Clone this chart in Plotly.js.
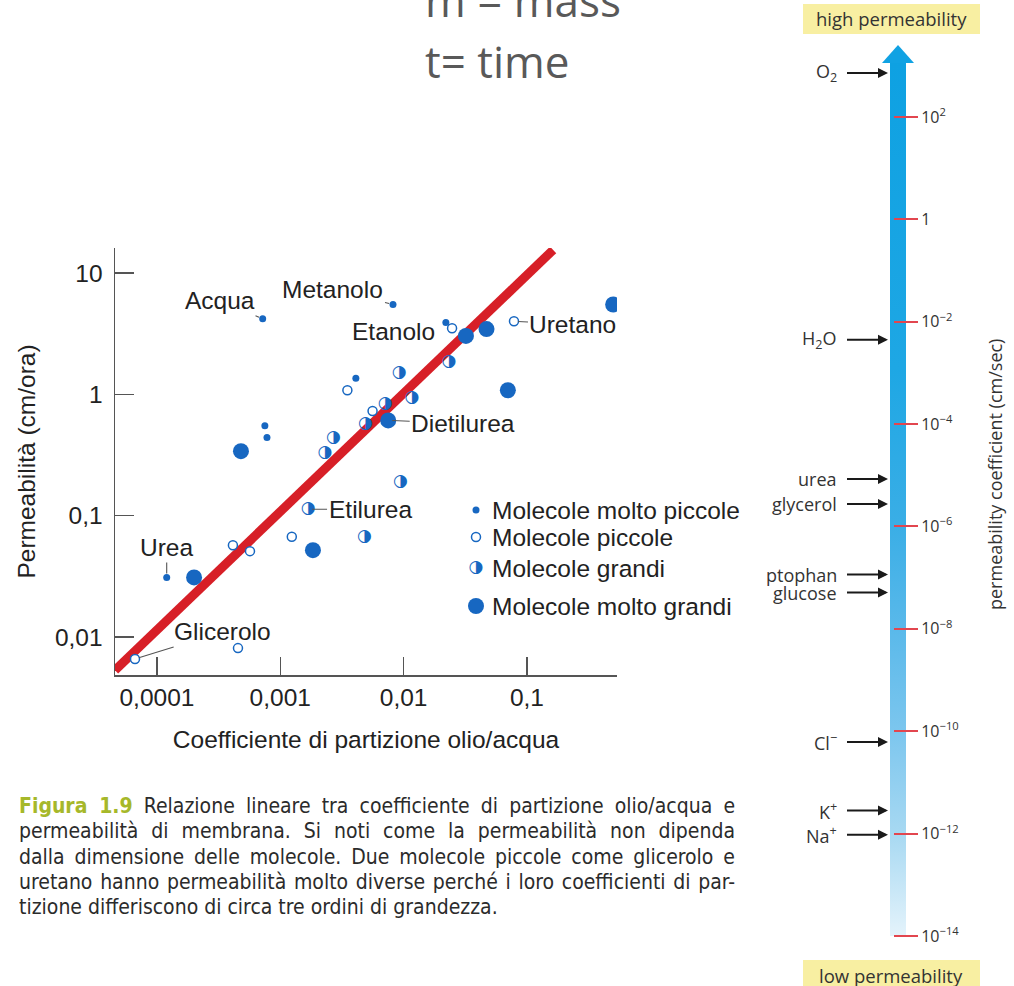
<!DOCTYPE html>
<html><head><meta charset="utf-8">
<script src="https://cdn.plot.ly/plotly-3.0.1.min.js"></script>
<style>html,body{margin:0;padding:0;background:#fff}</style>
</head><body><div id="chart" style="width:1014px;height:986px"></div>
<script>
// ---------- main chart data: partition coefficient (x) vs permeability cm/ora (y) ----------
const verySmallX = [0.00072, 0.0082, 0.022, 0.0041, 0.00075, 0.00078, 0.00012];
const verySmallY = [4.2, 5.5, 3.9, 1.36, 0.55, 0.44, 0.031];
const smallX = [0.0247, 0.0785, 0.0035, 0.0056, 0.0000664, 0.000454, 0.000413, 0.000568, 0.00124];
const smallY = [3.5, 4.0, 1.08, 0.73, 0.0066, 0.0081, 0.057, 0.051, 0.067];
const largeX = [0.0092, 0.0233, 0.0117, 0.0071, 0.0049, 0.0027, 0.0023, 0.0094, 0.00168, 0.0048];
const largeY = [1.5, 1.85, 0.93, 0.83, 0.57, 0.44, 0.33, 0.19, 0.113, 0.067];
const veryLargeX = [0.50, 0.047, 0.032, 0.070, 0.0075, 0.00048, 0.00184, 0.0002];
const veryLargeY = [5.5, 3.45, 3.03, 1.08, 0.61, 0.34, 0.052, 0.031];
const fitX = [0.0000457, 0.163];
const fitY = [0.00533, 15.5];
const seriesNames = ['Molecole molto piccole', 'Molecole piccole', 'Molecole grandi', 'Molecole molto grandi'];
const xTickVals = [1e-4, 1e-3, 1e-2, 1e-1];
const xTickText = ['0,0001', '0,001', '0,01', '0,1'];
const yTickVals = [0.01, 0.1, 1, 10];
const yTickText = ['0,01', '0,1', '1', '10'];
const labelNames = ['Acqua', 'Metanolo', 'Etanolo', 'Uretano', 'Dietilurea', 'Etilurea', 'Urea', 'Glicerolo'];
const labelX = [0.00072, 0.0082, 0.0247, 0.0785, 0.0075, 0.00168, 0.00012, 0.0000664];
const labelY = [4.2, 5.5, 3.5, 4.0, 0.61, 0.113, 0.031, 0.0066];

// ---------- right panel: permeability coefficient scale (cm/sec) ----------
const scaleTickVals = [1e2, 1, 1e-2, 1e-4, 1e-6, 1e-8, 1e-10, 1e-12, 1e-14];
const scaleTickText = ['10<sup>2</sup>', '1', '10<sup>−2</sup>', '10<sup>−4</sup>', '10<sup>−6</sup>',
  '10<sup>−8</sup>', '10<sup>−10</sup>', '10<sup>−12</sup>', '10<sup>−14</sup>'];
const soluteNames = ['O<sub>2</sub>', 'H<sub>2</sub>O', 'urea', 'glycerol', 'ptophan', 'glucose',
  'Cl<sup>−</sup>', 'K<sup>+</sup>', 'Na<sup>+</sup>'];
const soluteLogP = [2.86, -2.35, -5.07, -5.56, -6.94, -7.29, -10.21, -11.55, -12.02];

const captionLines = [
  '<b><span style="color:#a6b82a">Figura 1.9</span></b> Relazione lineare tra coefficiente di partizione olio/acqua e',
  'permeabilità di membrana. Si noti come la permeabilità non dipenda',
  'dalla dimensione delle molecole. Due molecole piccole come glicerolo e',
  'uretano hanno permeabilità molto diverse perché i loro coefficienti di par-',
  'tizione differiscono di circa tre ordini di grandezza.'
];

// ---------- layout helpers ----------
const W = 1014, H = 986;
const px = v => v / W, py = v => 1 - v / H;
const F = 'Liberation Sans, Arial, sans-serif';
const F2 = 'Open Sans, Noto Sans, sans-serif';
const FC = 'Liberation Sans Narrow, DejaVu Sans Condensed, Liberation Sans, sans-serif';
const FG = 'DejaVu Sans, sans-serif';
const FS = 24.5;
const BLUE = '#1767c1';
const HALF = '\u25D1';
const L = Math.log10;

// scale geometry (log10 units of the bar axis)
const barBottomLog = -14, barTopLog = 3.055, arrowTipLog = 3.406;
// key (legend) geometry in page pixels
const keyGlyphX = 476, keyTextX = 490, keyRowsY = [510, 537, 568, 606];

const styles = [
  {mode: 'markers', marker: {symbol: 'circle', size: 7, color: BLUE}},
  {mode: 'markers', marker: {symbol: 'circle', size: 9, color: '#ffffff', line: {color: BLUE, width: 1.5}}},
  {mode: 'text', textposition: 'middle center', textfont: {family: FG, size: 17, color: BLUE}},
  {mode: 'markers', marker: {symbol: 'circle', size: 16, color: BLUE}}
];
const seriesX = [verySmallX, smallX, largeX, veryLargeX];
const seriesY = [verySmallY, smallY, largeY, veryLargeY];

const traces = [
  {x: fitX, y: fitY, mode: 'lines', line: {color: '#d71f27', width: 9}, showlegend: false, hoverinfo: 'skip'}
];
seriesX.forEach((xs, i) => {
  const t = Object.assign({x: xs, y: seriesY[i], name: seriesNames[i], showlegend: false}, styles[i]);
  if (styles[i].mode === 'text') t.text = xs.map(() => HALF);
  traces.push(t);
});
// key glyphs (full-page pixel axes)
seriesNames.forEach((n, i) => {
  const t = Object.assign({x: [keyGlyphX], y: [keyRowsY[i]], xaxis: 'x4', yaxis: 'y4', showlegend: false,
    hoverinfo: 'skip'}, styles[i]);
  if (styles[i].mode === 'text') t.text = [HALF];
  traces.push(t);
});
// gradient bar
traces.push({x: [0.3, 0.7, 0.7, 0.3, 0.3],
  y: [barBottomLog, barBottomLog, barTopLog, barTopLog, barBottomLog].map(v => Math.pow(10, v)),
  xaxis: 'x3', yaxis: 'y3', mode: 'lines', fill: 'toself', line: {width: 0, color: 'rgba(0,0,0,0)'},
  fillgradient: {type: 'vertical', colorscale: [[0, '#e4f3fb'], [0.115, '#a8d9f2'], [0.234, '#7cc6ee'],
    [0.35, '#5ab9ea'], [0.47, '#3aaee6'], [0.65, '#1ea7e4'], [1, '#0ea1e2']]},
  showlegend: false, hoverinfo: 'skip'});
// arrow head
traces.push({x: [0.1, 0.9, 0.5, 0.1], y: [barTopLog, barTopLog, arrowTipLog, barTopLog].map(v => Math.pow(10, v)),
  xaxis: 'x3', yaxis: 'y3', mode: 'lines', fill: 'toself', fillcolor: '#10a2e3',
  line: {width: 0, color: 'rgba(0,0,0,0)'}, showlegend: false, hoverinfo: 'skip'});

// label offsets (pixels from the point to the label centre)
const labelAx = [-43, -60, -59, 59, 75, 62, 0, 87];
const labelAy = [-18, -15, 3, 3, 3, 0, -30, -27];
const annotations = [];
const txt = (o) => Object.assign({xanchor: 'center', yanchor: 'middle', showarrow: false}, o);
labelNames.forEach((n, i) => {
  if (n === 'Etanolo') {
    annotations.push(txt({x: L(labelX[i]), y: L(labelY[i]), xref: 'x', yref: 'y', text: n,
      xshift: labelAx[i], yshift: -labelAy[i], font: {family: F, size: FS, color: '#222'}}));
  } else {
    annotations.push({x: L(labelX[i]), y: L(labelY[i]), xref: 'x', yref: 'y', text: n, showarrow: true,
      ax: labelAx[i], ay: labelAy[i], arrowhead: 0, arrowwidth: 1.1, arrowcolor: '#555', standoff: 4,
      font: {family: F, size: FS, color: '#222'}});
  }
});
// key texts
seriesNames.forEach((n, i) => {
  annotations.push(txt({x: keyTextX, y: keyRowsY[i], xref: 'x4', yref: 'y4', xanchor: 'left', text: n,
    font: {family: F, size: FS, color: '#222'}}));
});
// solute arrows on the scale
soluteNames.forEach((n, i) => {
  annotations.push({x: 0.3, y: soluteLogP[i], xref: 'x3', yref: 'y3', text: n, showarrow: true,
    ax: -43, ay: 0, xanchor: 'right', yanchor: 'middle', borderpad: 9, arrowhead: 2, arrowsize: 1, arrowwidth: 2,
    arrowcolor: '#1a1a1a', standoff: 2, font: {family: F2, size: 18, color: '#333'}});
});
// scale title and boxes
annotations.push(txt({x: px(995), y: py(475), xref: 'paper', yref: 'paper', text: 'permeability coefficient (cm/sec)',
  textangle: -90, font: {family: F2, size: 18, color: '#333'}}));
annotations.push(txt({x: px(891), y: py(19), xref: 'paper', yref: 'paper', text: 'high permeability',
  font: {family: F2, size: 18.5, color: '#333'}}));
annotations.push(txt({x: px(891), y: py(975), xref: 'paper', yref: 'paper', text: 'low permeability',
  font: {family: F2, size: 18.5, color: '#333'}}));
// top text
annotations.push(txt({x: px(423), y: py(0), xref: 'paper', yref: 'paper', xanchor: 'left', text: 'm = mass',
  font: {family: F2, size: 44, color: '#595959'}}));
annotations.push(txt({x: px(423), y: py(61), xref: 'paper', yref: 'paper', xanchor: 'left', text: 't= time',
  font: {family: F2, size: 44, color: '#595959'}}));
// caption
const captionY = [806, 831, 857, 882, 907];
const captionStart = annotations.length;
captionLines.forEach((t, i) => {
  annotations.push(txt({x: px(17), y: py(captionY[i]), xref: 'paper', yref: 'paper', xanchor: 'left', align: 'left',
    text: t, font: {family: FC, size: 21, color: '#2b2b2b'}}));
});

const layout = {
  width: W, height: H, margin: {l: 0, r: 0, t: 0, b: 0},
  paper_bgcolor: '#ffffff', plot_bgcolor: 'rgba(0,0,0,0)',
  showlegend: false,
  xaxis: {type: 'log', domain: [px(115), px(617)], range: [-4.34, -0.27], anchor: 'y',
    tickvals: xTickVals, ticktext: xTickText, ticks: 'inside', ticklen: 18, tickwidth: 1.5, tickcolor: '#555',
    showline: true, linecolor: '#555', linewidth: 1.5, showgrid: false, zeroline: false,
    tickfont: {family: F, size: FS, color: '#222'},
    title: {text: 'Coefficiente di partizione olio/acqua', font: {family: F, size: FS, color: '#222'}, standoff: 21}},
  yaxis: {type: 'log', domain: [py(675), py(248)], range: [-2.313, 1.206], anchor: 'x',
    tickvals: yTickVals, ticktext: yTickText, ticks: 'inside', ticklen: 19, tickwidth: 1.5, tickcolor: '#555',
    showline: true, linecolor: '#555', linewidth: 1.5, showgrid: false, zeroline: false,
    tickfont: {family: F, size: FS, color: '#222'}, ticklabelstandoff: 6,
    title: {text: 'Permeabilità (cm/ora)', font: {family: F, size: FS, color: '#222'}, standoff: 12}},
  xaxis3: {domain: [px(878), px(918)], range: [0, 1], anchor: 'y3', visible: false, fixedrange: true},
  yaxis3: {type: 'log', domain: [py(945), py(40)], range: [-14.176, 3.504], anchor: 'free', position: px(893),
    side: 'right', tickvals: scaleTickVals, ticktext: scaleTickText, ticks: 'outside', ticklen: 24,
    tickwidth: 2, tickcolor: '#e2464f', showline: false, showgrid: false, zeroline: false,
    tickfont: {family: F2, size: 16, color: '#333'}},
  xaxis4: {domain: [0, 1], range: [0, W], anchor: 'y4', visible: false, fixedrange: true},
  yaxis4: {domain: [0, 1], range: [H, 0], anchor: 'x4', visible: false, fixedrange: true},
  shapes: [
    {type: 'rect', xref: 'paper', yref: 'paper', x0: px(803), x1: px(980), y0: py(34), y1: py(4),
     fillcolor: '#f8efa2', line: {width: 0}, layer: 'below'},
    {type: 'rect', xref: 'paper', yref: 'paper', x0: px(803), x1: px(980), y0: py(995), y1: py(960),
     fillcolor: '#f8efa2', line: {width: 0}, layer: 'below'}
  ],
  annotations: annotations
};

Plotly.newPlot('chart', traces, layout, {displayModeBar: false, staticPlot: true}).then(gd => {
  // justify the first caption lines to the reference text block width
  const target = 733 - 17;
  for (let k = 0; k < captionLines.length - 1; k++) {
    const el = gd.querySelector('.annotation[data-index="' + (captionStart + k) + '"] text.annotation-text');
    if (!el) continue;
    const cur = el.getComputedTextLength();
    const spaces = (el.textContent.match(/ /g) || []).length;
    if (spaces > 0 && cur < target) el.style.wordSpacing = ((target - cur) / spaces).toFixed(2) + 'px';
  }
});
</script></body></html>
